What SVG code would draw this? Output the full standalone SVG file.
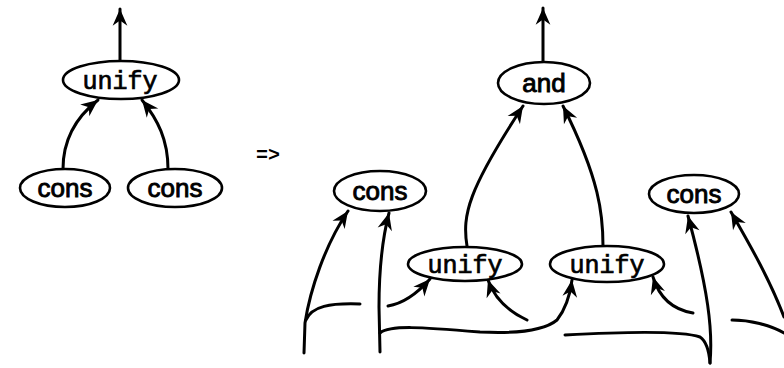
<svg xmlns="http://www.w3.org/2000/svg" width="784" height="368" viewBox="0 0 784 368">
<style>
.node ellipse{fill:#fff;stroke:#000;stroke-width:2.6}
.sans{font-family:"Liberation Sans",Arial,sans-serif;font-size:26px;text-anchor:middle;fill:#000;stroke:#000;stroke-width:0.9}
.mono{font-family:"Liberation Mono","Courier New",monospace;font-size:25px;text-anchor:middle;fill:#000;stroke:#000;stroke-width:0.7}
#connectors path{fill:none;stroke:#000;stroke-width:3;stroke-linecap:round}
#connectors path.arr{marker-end:url(#ah)}
</style>
<defs>
<marker id="ah" markerUnits="userSpaceOnUse" markerWidth="20" markerHeight="20" viewBox="-17 -8 19 16" refX="0" refY="0" orient="auto">
<path d="M0,0 L-16,-7 L-11,0 L-16,7 Z" fill="#000"/>
</marker>
</defs>
<rect width="784" height="368" fill="#fff"/>
<g id="connectors">
<path class="arr" d="M120 62 L120 9"/>
<path class="arr" d="M63 169 C63 140 75 118 98 100"/>
<path class="arr" d="M168 169 C168 140 158 120 142 100"/>
<path class="arr" d="M543 62 L543 8"/>
<path class="arr" d="M467 246 C462 215 468 190 523 106"/>
<path class="arr" d="M603 246 C603 215 600 180 563 106"/>
<path class="arr" d="M304 353 L305 323 C310 290 325 245 348 211"/>
<path d="M306 320 C312 306 330 303 360 304"/>
<path class="arr" d="M380 352 L379 307 C379 270 382 240 389 213"/>
<path class="arr" d="M380 333 C390 325 420 327 480 332 C520 334 545 330 557 320 C565 310 570 295 572 280"/>
<path class="arr" d="M388 306 C400 304 415 296 430 279"/>
<path class="arr" d="M527 320 C510 312 495 300 488 280"/>
<path d="M565 335 C620 332 680 330 700 337 C706 341 709 350 710 363"/>
<path class="arr" d="M710 363 C713 330 708 290 688 216"/>
<path class="arr" d="M693 313 C675 310 660 300 653 277"/>
<path d="M732 320 C750 320 770 325 784 333"/>
<path class="arr" d="M784 317 C770 280 750 245 731 212"/>
</g>
<g id="left-unify" class="node"><ellipse cx="121" cy="80" rx="58" ry="19"/><text class="mono" x="120" y="89">unify</text></g>
<g id="left-cons-1" class="node"><ellipse cx="65" cy="188" rx="45" ry="19"/><text class="sans" x="65" y="197">cons</text></g>
<g id="left-cons-2" class="node"><ellipse cx="175" cy="188" rx="47" ry="19"/><text class="sans" x="175" y="197">cons</text></g>
<text x="256" y="161" style="font-family:'Liberation Mono',monospace;font-weight:bold;font-size:20px">=&gt;</text>
<g id="and" class="node"><ellipse cx="544" cy="83" rx="46" ry="21"/><text class="sans" x="544" y="92">and</text></g>
<g id="right-cons-1" class="node"><ellipse cx="380" cy="191" rx="46" ry="20"/><text class="sans" x="380" y="200">cons</text></g>
<g id="right-cons-2" class="node"><ellipse cx="694" cy="194" rx="45" ry="19"/><text class="sans" x="694" y="203">cons</text></g>
<g id="right-unify-1" class="node"><ellipse cx="465" cy="264" rx="57" ry="17"/><text class="mono" x="465" y="273">unify</text></g>
<g id="right-unify-2" class="node"><ellipse cx="607" cy="264" rx="57" ry="18"/><text class="mono" x="607" y="273">unify</text></g>
</svg>
